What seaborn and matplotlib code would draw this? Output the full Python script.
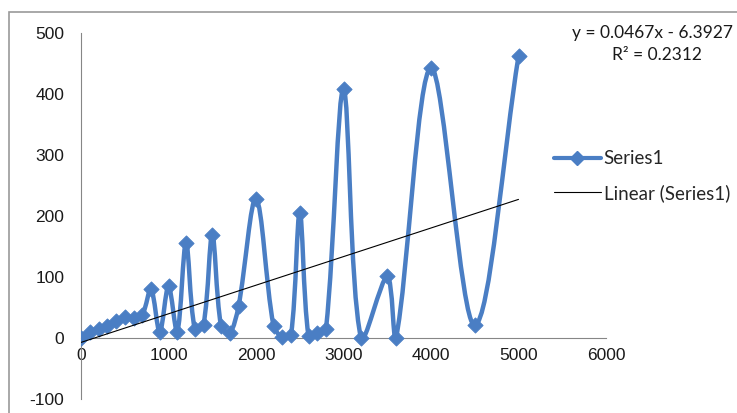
import numpy as np
import seaborn as sns
import matplotlib
matplotlib.use("Agg")
import matplotlib.pyplot as plt
from matplotlib.path import Path
from matplotlib.patches import PathPatch, Rectangle
from matplotlib.lines import Line2D

# values
xs = [0, 100, 200, 300, 400, 500, 600, 700, 800, 900, 1000, 1100, 1200, 1300,
      1400, 1500, 1600, 1700, 1800, 2000, 2200, 2300, 2400, 2500, 2600, 2700,
      2800, 3000, 3200, 3500, 3600, 4000, 4500, 5000]
ys = [0, 10, 15, 20, 28, 35, 33, 38, 80, 10, 85, 10, 156, 15,
      22, 169, 20, 8, 52, 228, 20, 2, 5, 205, 3, 8,
      15, 408, 0, 101, 0, 443, 21, 462]
xticks = [0, 1000, 2000, 3000, 4000, 5000, 6000]
yticks = [-100, 0, 100, 200, 300, 400, 500]

blue = "#4a7ec4"
txt_font = ['Lato', 'DejaVu Sans']

sns.set_style("white")
plt.rcParams['font.family'] = ['Liberation Sans', 'DejaVu Sans']
plt.rcParams['axes.unicode_minus'] = False

fig = plt.figure(figsize=(7.37, 4.13), dpi=100)
ax = fig.add_axes([81 / 737, 14 / 413, (606 - 81) / 737, (399 - 33) / 413])

# smoothed line like excel: bezier with tangents weighted by segment length
sx, sy = 525 / 6000, 366 / 600
P = np.column_stack([np.array(xs) * sx, np.array(ys) * sy]).astype(float)
verts = [P[0]]
codes = [Path.MOVETO]
n = len(P)
for i in range(n - 1):
    p0 = P[max(i - 1, 0)]
    p1 = P[i]
    p2 = P[i + 1]
    p3 = P[min(i + 2, n - 1)]
    d01 = np.hypot(*(p1 - p0))
    d12 = np.hypot(*(p2 - p1))
    d23 = np.hypot(*(p3 - p2))
    w1 = d12 / (d01 + d12) if d01 + d12 > 0 else 0
    w2 = d12 / (d12 + d23) if d12 + d23 > 0 else 0
    c1 = p1 + (p2 - p0) * w1 / 3
    c2 = p2 - (p3 - p1) * w2 / 3
    verts += [c1, c2, p2]
    codes += [Path.CURVE4] * 3
verts = np.array(verts) / np.array([sx, sy])
ax.add_patch(PathPatch(Path(verts, codes), facecolor="none", edgecolor=blue,
                       lw=3.2, zorder=2, capstyle="round", joinstyle="round"))
sns.scatterplot(x=xs, y=ys, marker="D", s=60, color=blue, edgecolor=blue,
                ax=ax, zorder=3)

# linear trendline
k, b = np.polyfit(xs, ys, 1)
tx = np.array([min(xs), max(xs)])
sns.lineplot(x=tx, y=k * tx + b, color="black", lw=0.8, ax=ax, zorder=4)

ax.set_xlim(0, 6000)
ax.set_ylim(-100, 500)
ax.set_xticks(xticks)
ax.set_yticks(yticks)
ax.spines['left'].set_position(('data', 0))
ax.spines['bottom'].set_position(('data', 0))
ax.spines['top'].set_visible(False)
ax.spines['right'].set_visible(False)
for s in ['left', 'bottom']:
    ax.spines[s].set_color("#868686")
    ax.spines[s].set_linewidth(0.8)
ax.tick_params(axis='both', direction='out', length=5, color="#868686",
               labelsize=12.5, labelcolor="#1a1a1a", width=0.8)
ax.tick_params(axis='y', pad=7)
ax.tick_params(axis='x', pad=2)
ax.grid(False)
ax.patch.set_alpha(0)

# chart border
fig.add_artist(Rectangle((9 / 737, -0.02), 1.0, (413 - 12) / 413 + 0.02,
                         transform=fig.transFigure, fill=False,
                         edgecolor="#9a9a9a", lw=1.2))

fig.text(733 / 737, 1 - 33 / 413, "y = 0.0467x - 6.3927", fontsize=12.5,
         family=txt_font, va='center', ha='right', color="#1a1a1a")
fig.text(657 / 737, 1 - 55 / 413, "R² = 0.2312", fontsize=12.5,
         family=txt_font, va='center', ha='center', color="#1a1a1a")

handles = [Line2D([], [], color=blue, lw=3, marker="D", markersize=7),
           Line2D([], [], color="black", lw=0.8)]
fig.legend(handles, ["Series1", "Linear (Series1)"], loc="center left",
           bbox_to_anchor=(554 / 737, 1 - 176 / 413), frameon=False,
           handlelength=2.5, handletextpad=0.15, labelspacing=0.9,
           borderaxespad=0, borderpad=0,
           prop={'family': txt_font, 'size': 13.5})

fig.savefig("out.png", dpi=100)
